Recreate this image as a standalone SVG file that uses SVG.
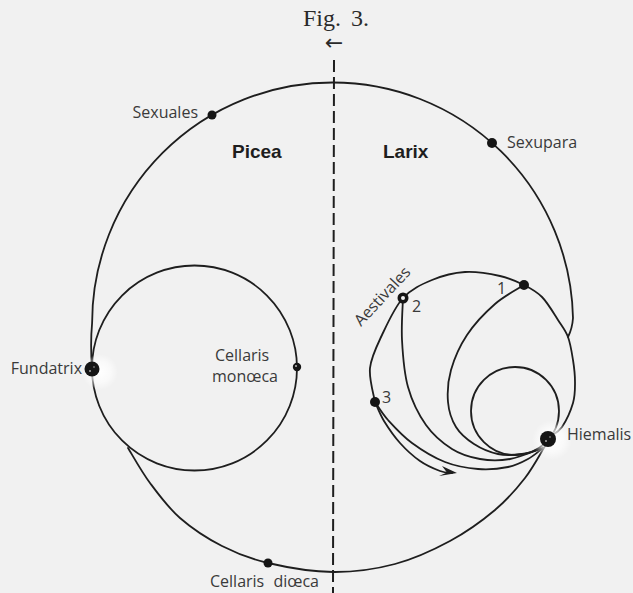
<svg xmlns="http://www.w3.org/2000/svg" width="633" height="593" viewBox="0 0 633 593">
<defs>
<style>
.ln{fill:none;stroke:#1e1e1e;stroke-width:1.8;stroke-linecap:round}
.lab{font-family:"Open Sans","DejaVu Sans",sans-serif;font-size:16px;fill:#3a3a3a}
.bold{font-family:"Liberation Sans",Arial,sans-serif;font-weight:bold;font-size:19px;fill:#1e1e1e}
.dot{fill:#151515}
</style>
<radialGradient id="glow">
<stop offset="0" stop-color="#ffffff" stop-opacity="1"/>
<stop offset="0.6" stop-color="#ffffff" stop-opacity="0.6"/>
<stop offset="1" stop-color="#ffffff" stop-opacity="0"/>
</radialGradient>
</defs>
<rect width="633" height="593" fill="#f1f1f1"/>

<text x="303" y="26" font-family="Liberation Serif,'Times New Roman',serif" font-size="24" fill="#2a2a2a" word-spacing="4">Fig. 3.</text>
<text x="334" y="50" text-anchor="middle" font-family="'DejaVu Sans',sans-serif" font-size="22" fill="#2a2a2a">←</text>

<g id="connectors">
<line x1="334" y1="60" x2="333" y2="593" stroke="#1e1e1e" stroke-width="2" stroke-dasharray="12 5"/>
<path class="ln" d="M92,369 C91,355 91,335 92.1,323 A240.5,240.5 0 0 1 332.6,82.5 A240.5,240.5 0 0 1 573,318 C572.5,326 570.5,332 568,337"/>
<circle class="ln" cx="194.5" cy="368" r="102.5"/>
<path class="ln" d="M128,448 C131.7,453.8 141.3,471.3 150,483 C158.7,494.7 168,507.5 180,518 C192,528.5 207.3,538.5 222,546 C236.7,553.5 249.5,558.7 268,563 C286.5,567.3 311.8,571.8 333,572 C354.2,572.2 375.5,569.2 395,564 C414.5,558.8 433.3,550 450,541 C466.7,532 482.5,520.5 495,510 C507.5,499.5 516.7,488.7 525,478 C533.3,467.3 541.7,451.3 545,446"/>
<path class="ln" d="M375,402 C374.2,396.3 368.8,379.2 370,368 C371.2,356.8 376.5,346.7 382,335 C387.5,323.3 394.7,307.2 403,298 C411.3,288.8 421.7,284.3 432,280 C442.3,275.7 453.7,272.7 465,272 C476.3,271.3 490.2,273.8 500,276 C509.8,278.2 517,281.5 524,285 C531,288.5 536.3,291.2 542,297 C547.7,302.8 553.7,313.3 558,320 C562.3,326.7 565.5,330.3 568,337 C570.5,343.7 571.8,352.5 573,360 C574.2,367.5 575,374.8 575,382 C575,389.2 575.2,395.5 573,403 C570.8,410.5 565.7,421.5 562,427 C558.3,432.5 552.8,434.5 551,436"/>
<circle class="ln" cx="515" cy="411" r="44"/>
<path class="ln" d="M403,298 C402.8,305 401.2,325.2 402,340 C402.8,354.8 404,372.8 408,387 C412,401.2 418.7,414.7 426,425 C433.3,435.3 443,443.3 452,449 C461,454.7 470.3,457.3 480,459 C489.7,460.7 499.5,460.8 510,459 C520.5,457.2 537.5,449.8 543,448"/>
<path class="ln" d="M524,285 C519.2,288.2 504.5,295.7 495,304 C485.5,312.3 474.3,324 467,335 C459.7,346 454.2,358.8 451,370 C447.8,381.2 447.2,392.5 448,402 C448.8,411.5 451.7,420 456,427 C460.3,434 467,439.5 474,444 C481,448.5 490,452.3 498,454 C506,455.7 514.5,455 522,454 C529.5,453 539.5,449 543,448"/>
<path class="ln" d="M375,402 C377.2,405 381.8,413.2 388,420 C394.2,426.8 402.5,436 412,443 C421.5,450 434,457.7 445,462 C456,466.3 467.5,468.2 478,469 C488.5,469.8 499.7,468.7 508,467 C516.3,465.3 522.2,462.2 528,459 C533.8,455.8 540.5,449.8 543,448"/>
<path class="ln" d="M375,402 C376.5,405.2 379.8,414.2 384,421 C388.2,427.8 394,436.3 400,443 C406,449.7 413.3,456.3 420,461 C426.7,465.7 434.7,469 440,471 C445.3,473 450,472.7 452,473"/>
<polygon points="457,473 442,466 447,472.5 439,476" fill="#1e1e1e"/>
</g>

<g id="fundatrix">
<circle cx="100" cy="372" r="18" fill="url(#glow)"/>
<circle class="dot" cx="92" cy="369" r="7.5"/>
<circle cx="90" cy="371" r="1" fill="#aaa"/>
<circle cx="94" cy="367" r="0.8" fill="#aaa"/>
<text class="lab" x="82" y="374" text-anchor="end" font-size="17">Fundatrix</text>
</g>
<g id="sexuales">
<circle class="dot" cx="212" cy="115" r="4.5"/>
<text class="lab" x="198" y="118" text-anchor="end" font-size="15">Sexuales</text>
</g>
<g id="sexupara">
<circle class="dot" cx="492" cy="143" r="5"/>
<text class="lab" x="507" y="148">Sexupara</text>
</g>
<g id="cellaris-monoeca">
<circle class="dot" cx="297" cy="367" r="4.2"/>
<circle cx="296" cy="366" r="1" fill="#bbb"/>
<text class="lab" x="215" y="361" font-size="15">Cellaris</text>
<text class="lab" x="212" y="382" font-size="15">monœca</text>
</g>
<g id="cellaris-dioeca">
<circle class="dot" cx="268" cy="563" r="4.5"/>
<text class="lab" x="210" y="587" word-spacing="5">Cellaris diœca</text>
</g>
<g id="node1">
<circle class="dot" cx="524" cy="285" r="5"/>
<text class="lab" x="497" y="294">1</text>
</g>
<g id="node2">
<circle class="dot" cx="403" cy="298" r="5.5"/>
<circle cx="403" cy="298" r="2" fill="#f1f1f1"/>
<text class="lab" x="412" y="312">2</text>
<text class="lab" transform="translate(361,327) rotate(-47)" font-size="17">Aestivales</text>
</g>
<g id="node3">
<circle class="dot" cx="375" cy="402" r="5"/>
<text class="lab" x="382" y="403">3</text>
</g>
<g id="hiemalis">
<circle cx="552" cy="440" r="20" fill="url(#glow)"/>
<circle class="dot" cx="548" cy="439" r="8"/>
<circle cx="546" cy="441" r="1" fill="#aaa"/>
<circle cx="550" cy="437" r="0.8" fill="#aaa"/>
<text class="lab" x="567" y="440">Hiemalis</text>
</g>
<g id="picea"><text class="bold" x="232" y="158">Picea</text></g>
<g id="larix"><text class="bold" x="383" y="158">Larix</text></g>
</svg>
